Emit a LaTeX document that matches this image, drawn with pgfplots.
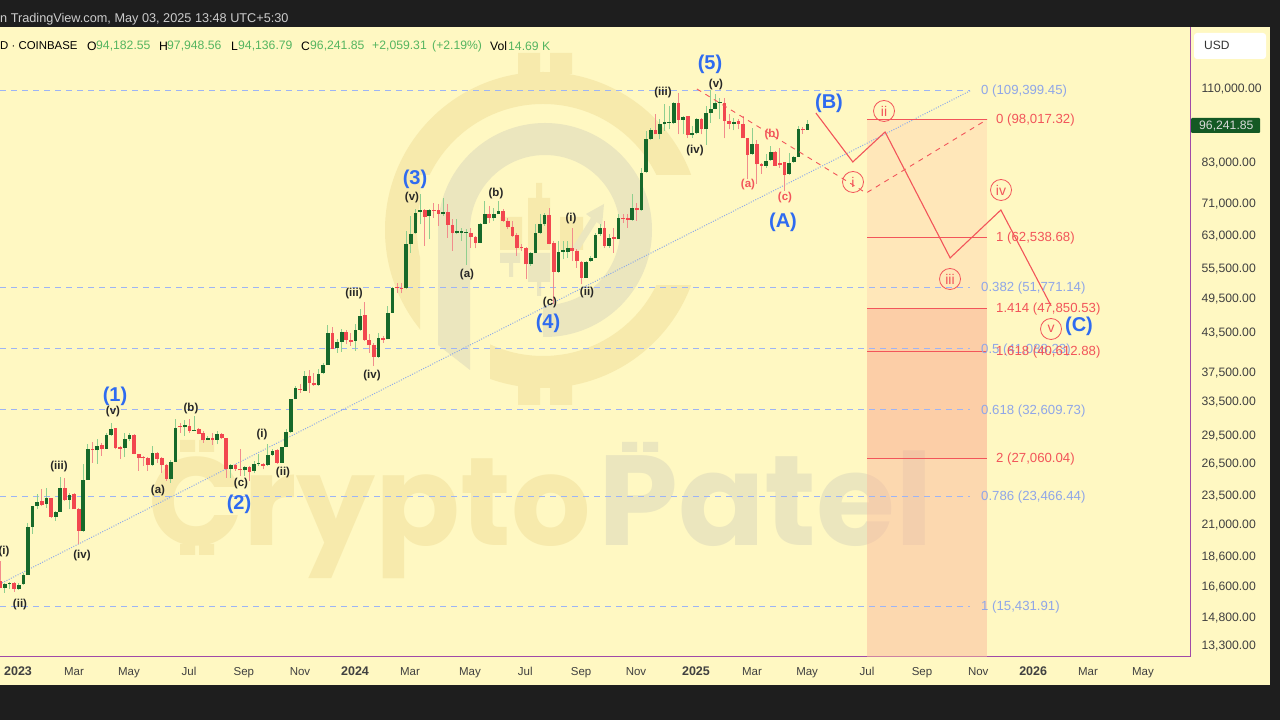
\documentclass[border=0pt]{standalone}
\usepackage{fontspec}
\usepackage{pgfplots}
\usepackage{pgfplotstable}
\pgfplotsset{compat=1.18}
\setmainfont{Liberation Sans}
\newfontfamily\wmfont{Poppins}

\definecolor{dark}{HTML}{1E1E1E}
\definecolor{paper}{HTML}{FFF8C2}
\definecolor{wgold}{HTML}{F7EAAC}
\definecolor{wgrey}{HTML}{EBE6BE}
\definecolor{upbody}{HTML}{17692A}
\definecolor{upwick}{HTML}{8FCF8F}
\definecolor{dnbody}{HTML}{F2474F}
\definecolor{dnwick}{HTML}{F28C8C}
\definecolor{fibblue}{HTML}{9DB4F5}
\definecolor{fibtext}{HTML}{8FA6E8}
\definecolor{trend}{HTML}{8FABE8}
\definecolor{redline}{HTML}{F2555A}
\definecolor{wave}{HTML}{2F6BF0}
\definecolor{axisline}{HTML}{A04AA8}
\definecolor{quote}{HTML}{55B560}
\definecolor{shadeA}{HTML}{FFD8B2}
\definecolor{shadeB}{HTML}{FBA68E}
\definecolor{shadeC}{HTML}{FBBA9E}
\newcommand\sz[1]{\fontsize{#1}{#1}\selectfont}

% 5-day bars: n, low, high, body bottom, body top
\pgfplotstableread{
n l h b t
1 16280 16910 16591 16800
2 16490 16950 16800 16870
4 16450 16870 16490 16780
5 16760 17560 16800 17410
6 17410 21230 17410 20880
7 20360 22620 20880 22620
8 22330 23700 22620 22990
10 22473 24244 22760 23280
12 21365 22190 21720 22130
13 22130 25250 22130 24180
15 22330 23790 23130 23550
18 20520 26490 20570 24990
19 24990 28575 24990 28075
21 26550 29120 27930 28360
23 28040 29870 28110 29610
24 29500 30920 29610 30250
27 27240 29870 28216 29190
28 28939 29870 29190 29570
33 26320 28400 26420 27620
37 24710 26890 25090 26760
38 26760 31500 26760 30440
40 29500 31320 30480 30720
42 30060 31800 30060 30170
45 29010 29500 29090 29230
47 28570 30060 29090 29680
50 25190 26490 25990 26390
53 25340 26320 25890 26220
55 25660 26825 25830 26490
56 26320 27512 26490 26590
58 26320 28575 26420 27440
59 27340 28110 27440 27900
61 26650 28320 26650 28320
62 28320 30250 28320 29950
63 29870 33890 29950 33890
64 33890 35650 33890 35350
66 34980 37740 34980 37030
69 35650 37980 35740 37360
70 37267 38950 37410 38610
71 38610 44920 38610 43650
73 40460 42560 41130 42130
74 40610 44200 42180 43810
77 40710 45050 42290 44040
78 43930 47690 44040 46500
82 39700 43650 39850 42770
84 42560 48290 42560 47090
85 46970 51900 47090 51772
88 51450 64190 51640 61020
89 59120 67950 61020 63540
90 63540 69690 63620 68810
91 65830 73766 69070 69420
93 62190 69870 67860 69600
96 67950 72650 68550 69070
99 63381 67090 63700 64190
100 61798 65004 63780 64190
101 56420 64590 63700 64030
104 61250 66250 61410 66000
105 65830 71924 66000 68376
107 66669 70128 67350 68550
108 68810 71924 68550 69250
115 56210 59340 56560 58970
116 59120 65830 59120 63780
117 63540 68376 63780 65830
118 65420 68810 65830 68200
121 54800 61798 54940 59340
122 57650 61798 59340 59650
123 58010 61798 59340 60255
127 53774 57280 53774 57140
128 57140 58380 57280 58013
129 58013 63790 58013 63230
130 62990 65833 63380 65000
132 60250 63380 60640 62586
134 62190 68380 62350 67350
137 66670 73770 66920 69950
139 69248 81400 69420 80090
140 80090 93801 80400 90880
141 90550 95000 90880 94040
143 90880 98050 92630 96203
144 93801 103786 96203 96940
145 94400 103130 96570 97060
146 96203 104840 96570 104440
148 92630 99300 97800 99040
150 91458 95600 92380 93090
151 92630 98667 92990 98290
153 88950 103130 94400 100320
154 96820 109440 100320 101830
155 101830 107790 102090 104440
156 98050 106444 104440 104840
159 94040 98667 96450 97190
163 85640 94760 85860 89400
166 81620 85860 82240 83710
167 83710 88610 83930 86730
171 79390 86400 79800 83180
172 83180 85320 83500 85000
173 85000 95600 85100 94400
175 94137 97949 94183 96242
}\upbars

\pgfplotstableread{
n l h b t
0 16550 18357 16550 17016
3 16340 16950 16490 16910
9 22620 24090 22710 23049
11 21640 23340 21720 23340
14 23049 25190 23130 24180
16 22330 23790 22330 23700
17 19550 22473 20570 22390
20 26650 28830 27970 28110
22 27340 28680 28040 28460
25 28040 30440 28150 30360
26 27000 28400 28110 28290
29 27512 29680 27580 29570
30 25830 27580 27100 27512
31 26320 27340 27100 27240
32 25830 27240 26420 27100
34 26650 27790 27060 27680
35 25660 27240 26420 27100
36 24865 26490 25090 26420
39 29870 30920 30560 30640
41 29870 31420 30060 30640
43 29680 30360 29750 30250
44 28760 30060 29010 29790
46 28500 29870 29090 29310
48 29120 29870 29230 29750
49 25190 29230 25990 29230
51 25830 26490 26050 26390
52 25340 28110 25890 26020
54 24865 26320 25760 26220
57 25990 26650 26290 26490
60 26550 28040 26650 27930
65 34760 35880 35090 35300
67 34760 37880 36100 37030
68 35650 37500 35740 36100
72 40970 44650 41070 43650
75 41760 44040 42400 43810
76 41500 43650 42130 42450
79 42290 49030 42400 46620
80 40460 43373 41600 42400
81 38460 42020 39850 41600
83 42020 43100 42450 42720
86 50800 52760 51640 51900
87 50670 52760 51640 51772
92 60640 69690 67780 69420
94 67520 71470 69250 69510
95 65420 71020 68550 69420
97 62580 71200 65670 69070
98 59500 67090 63780 65590
102 60255 65004 62830 63700
103 60100 62980 61410 62830
106 66250 70570 67350 68376
109 66500 69690 66669 69250
110 64590 67520 65170 66669
111 62740 66669 62980 65170
112 58380 63780 60255 63140
113 59500 61020 60100 60410
114 53440 60410 56560 60100
119 61020 69950 61180 68120
120 48600 61798 55000 61250
124 57280 65000 59499 60250
125 55850 59880 57280 59499
126 52432 57280 53774 57140
131 60250 66670 60640 65000
133 59120 65000 62350 62740
135 66250 68380 67090 67350
136 65000 68380 66920 67350
138 66670 71470 69420 69950
142 92630 99920 92630 94160
147 92630 108480 97800 104440
149 91230 99300 92380 99300
152 92630 98667 94400 98170
157 91230 106444 97570 104440
158 94400 99920 96450 97570
160 94400 98050 96450 97430
161 91230 99300 91230 96450
162 78090 91230 85640 91230
164 76810 90550 82659 89400
165 79800 83180 82240 82659
168 82140 86947 82140 86730
169 81620 87820 82350 83180
170 74706 83500 79390 83390
174 92870 95240 94040 94400
}\downbars

\pgfplotsset{
  wick/.style={draw=none,no markers,error bars/.cd,y dir=plus,y explicit,error mark=none,error bar style={solid,#1,line width=1pt}},
  body/.style={draw=none,no markers,error bars/.cd,y dir=plus,y explicit,error mark=none,error bar style={solid,#1,line width=3.7pt}},
}

\begin{document}
\begin{tikzpicture}
\useasboundingbox (0pt,0pt) rectangle (1280pt,720pt);
\begin{scope}[x=1pt,y=-1pt,shift={(0pt,720pt)}]
\fill[dark] (0,0) rectangle (1280,720);
\fill[paper] (0,27) rectangle (1270,685);
% watermark: logo rings
\begin{scope}
\clip (370,40) rectangle (720,175) (370,175) rectangle (420,340);
\draw[wgold,line width=32pt] (543,230) circle[radius=142];
\end{scope}
\begin{scope}
\clip (490,286) rectangle (720,420);
\draw[wgold,line width=32pt] (543,230) circle[radius=142];
\end{scope}
\fill[wgold] (518,53) rectangle (540,74) (550,53) rectangle (572,74)
  (518,385) rectangle (540,405) (550,385) rectangle (572,405);
\begin{scope}
\clip (430,110) rectangle (660,230) (543,230) rectangle (660,345);
\draw[wgrey,line width=32pt] (545,230) circle[radius=91];
\end{scope}
\fill[wgrey] (438,230) -- (470,230) -- (470,370) -- (438,345) -- cycle;
\fill[wgold] (500,217) rectangle (522,250) (528,198) rectangle (550,250)
  (536,183) rectangle (542,198) (560,217) rectangle (583,250);
\fill[wgrey] (500,253) rectangle (520,263) (509,263) rectangle (513,277)
  (528,253) rectangle (550,282) (537,282) rectangle (541,296);
\draw[wgrey,line width=7pt] (575,250) -- (595,218);
\fill[wgrey] (604,204) -- (586,214) -- (602,226) -- cycle;
% watermark: name
\node[anchor=base west,inner sep=0pt,text=wgold] at (148,546) {\wmfont\bfseries\sz{125}Crypto};
\node[anchor=base west,inner sep=0pt,text=wgrey] at (598,546) {\wmfont\bfseries\sz{128}Patel};
\fill[wgold] (180,440) rectangle (195,452) (199,440) rectangle (214,452)
  (180,544) rectangle (195,555) (199,544) rectangle (214,555);
\fill[wgrey] (622,442) rectangle (637,452) (643,442) rectangle (658,452);
\end{scope}

\begin{axis}[
at={(0pt,63pt)},anchor=south west,
scale only axis,width=1190pt,height=630pt,
ymode=log,
xmin=-0.065,xmax=257.9,
ymin=12751,ymax=139170,
axis x line*=bottom,axis y line*=right,
axis line style={axisline,line width=1pt},
major tick length=0pt,minor tick length=0pt,
xtick={3.84,15.98,27.9,40.9,52.8,64.97,76.9,88.8,101.8,113.8,125.9,137.8,150.8,162.95,174.9,187.9,199.8,212,223.9,235.8,247.7},
xticklabels={{\sz{12.5}\textbf{2023}},Mar,May,Jul,Sep,Nov,{\sz{12.5}\textbf{2024}},Mar,May,Jul,Sep,Nov,{\sz{12.5}\textbf{2025}},Mar,May,Jul,Sep,Nov,{\sz{12.5}\textbf{2026}},Mar,May},
xticklabel style={anchor=base,yshift=-19pt,font=\sz{11.5},text=black!75},
ytick={110000,83000,71000,63000,55500,49500,43500,37500,33500,29500,26500,23500,21000,18600,16600,14800,13300},
yticklabels={{110,000.00},{83,000.00},{71,000.00},{63,000.00},{55,500.00},{49,500.00},{43,500.00},{37,500.00},{33,500.00},{29,500.00},{26,500.00},{23,500.00},{21,000.00},{18,600.00},{16,600.00},{14,800.00},{13,300.00}},
yticklabel style={anchor=west,xshift=8pt,font=\sz{12.2},text=black!75},
]
% target zone
\addplot[fill=shadeA,draw=none,fill opacity=0.5] coordinates {(187.9,98017)(213.9,98017)(213.9,47850)(187.9,47850)} -- cycle;
\addplot[fill=shadeB,draw=none,fill opacity=0.5] coordinates {(187.9,47850)(213.9,47850)(213.9,27060)(187.9,27060)} -- cycle;
\addplot[fill=shadeC,draw=none,fill opacity=0.5] coordinates {(187.9,27060)(213.9,27060)(213.9,12751)(187.9,12751)} -- cycle;
% fib retracement
\pgfplotsinvokeforeach{109399.45,51771.14,41088.23,32609.73,23466.44,15431.91}{
\addplot[fibblue,line width=1.3pt,dash pattern=on 6pt off 5pt] coordinates {(-0.065,#1)(210.2,#1)};
}
\addplot[trend,line width=1pt,dash pattern=on 1pt off 1.5pt] coordinates {(0.37,16890)(210.4,109399)};
% candles
\addplot[wick=upwick] table[x=n,y=l,y error plus expr=\thisrow{h}-\thisrow{l}] {\upbars};
\addplot[wick=dnwick] table[x=n,y=l,y error plus expr=\thisrow{h}-\thisrow{l}] {\downbars};
\addplot[body=upbody] table[x=n,y=b,y error plus expr=\thisrow{t}-\thisrow{b}] {\upbars};
\addplot[body=dnbody] table[x=n,y=b,y error plus expr=\thisrow{t}-\thisrow{b}] {\downbars};
% red fib levels
\pgfplotsinvokeforeach{98017.32,62538.68,47850.53,40612.88,27060.04}{
\addplot[redline,line width=1.1pt] coordinates {(187.9,#1)(213.9,#1)};
}
\addplot[redline,line width=0.9pt,dash pattern=on 5pt off 5pt] coordinates {(151,110000)(187.7,74130)(213.9,97950)};
\addplot[redline,line width=1.1pt] coordinates {(176.8,100420)(184.8,83390)(191.8,93440)(205.9,57950)(216.9,69500)(227.8,48300)};
\end{axis}

\begin{scope}[x=1pt,y=-1pt,shift={(0pt,719pt)}]
% header
\node[anchor=west,inner sep=0pt,text=white!80!black] at (0,18) {\sz{12.7}n TradingView.com, May 03, 2025 13:48 UTC+5:30};
\begin{scope}[every node/.style={anchor=west,inner sep=0pt,font=\sz{12.2}}]
\node[font=\sz{11.4}] at (0,45) {D · COINBASE};
\node at (87,45) {O}; \node[text=quote] at (96,45) {94,182.55};
\node at (159,45) {H}; \node[text=quote] at (167,45) {97,948.56};
\node at (231,45) {L}; \node[text=quote] at (238,45) {94,136.79};
\node at (301,45) {C}; \node[text=quote] at (310,45) {96,241.85};
\node[text=quote] at (372,45) {+2,059.31}; \node[text=quote] at (432,45) {(+2.19\%)};
\node at (490,45) {Vol}; \node[text=quote] at (508,45) {14.69 K};
\end{scope}
% price scale extras
\fill[white,rounded corners=3pt] (1194,32) rectangle (1266,58);
\node[anchor=west,inner sep=0pt,text=black!80] at (1204,44) {\sz{12}USD};
\fill[upbody!85!black,rounded corners=1pt] (1191,117) rectangle (1260,132);
\node[anchor=west,inner sep=0pt,text=white!85!black] at (1199,125) {\sz{12.2}96,241.85};
% fib labels
\begin{scope}[every node/.style={anchor=west,inner sep=0pt,text=fibtext,font=\sz{13.2}}]
\node at (981,90) {0 (109,399.45)};
\node at (981,287) {0.382 (51,771.14)};
\node at (981,349) {0.5 (41,088.23)};
\node at (981,410) {0.618 (32,609.73)};
\node at (981,496) {0.786 (23,466.44)};
\node at (981,606) {1 (15,431.91)};
\end{scope}
\begin{scope}[every node/.style={anchor=west,inner sep=0pt,text=redline,font=\sz{13.2}}]
\node at (996,119) {0 (98,017.32)};
\node at (996,237) {1 (62,538.68)};
\node at (996,308) {1.414 (47,850.53)};
\node at (996,351) {1.618 (40,612.88)};
\node at (996,458) {2 (27,060.04)};
\end{scope}
% wave labels
\begin{scope}[every node/.style={inner sep=0pt,text=wave,font=\bfseries\sz{20}}]
\node at (115,395) {(1)}; \node at (239,503) {(2)}; \node at (415,178) {(3)};
\node at (548,322) {(4)}; \node at (710,63) {(5)}; \node at (783,221) {(A)};
\node at (829,102) {(B)}; \node at (1079,325) {(C)};
\end{scope}
\begin{scope}[every node/.style={inner sep=0pt,text=black!85,font=\bfseries\sz{11.5}}]
\node at (4,551) {(i)}; \node at (20,604) {(ii)}; \node at (59,466) {(iii)};
\node at (82,555) {(iv)}; \node at (113,411) {(v)}; \node at (191,408) {(b)};
\node at (158,490) {(a)}; \node at (241,483) {(c)}; \node at (262,434) {(i)};
\node at (283,472) {(ii)}; \node at (354,293) {(iii)}; \node at (372,375) {(iv)};
\node at (412,197) {(v)}; \node at (467,274) {(a)}; \node at (496,193) {(b)};
\node at (550,302) {(c)}; \node at (571,218) {(i)}; \node at (587,292) {(ii)};
\node at (663,92) {(iii)}; \node at (695,150) {(iv)}; \node at (716,84) {(v)};
\end{scope}
\begin{scope}[every node/.style={inner sep=0pt,text=redline,font=\bfseries\sz{11.5}}]
\node at (748,184) {(a)}; \node at (772,134) {(b)}; \node at (785,197) {(c)};
\end{scope}
% circled minor waves
\begin{scope}[every node/.style={circle,draw=redline,line width=0.8pt,minimum size=21pt,inner sep=0pt,text=redline,font=\sz{14}}]
\node at (884,110) {ii}; \node at (853,181) {i}; \node at (950,278) {iii};
\node at (1001,189) {iv}; \node at (1051,328) {v};
\end{scope}
\end{scope}
\end{tikzpicture}
\end{document}
